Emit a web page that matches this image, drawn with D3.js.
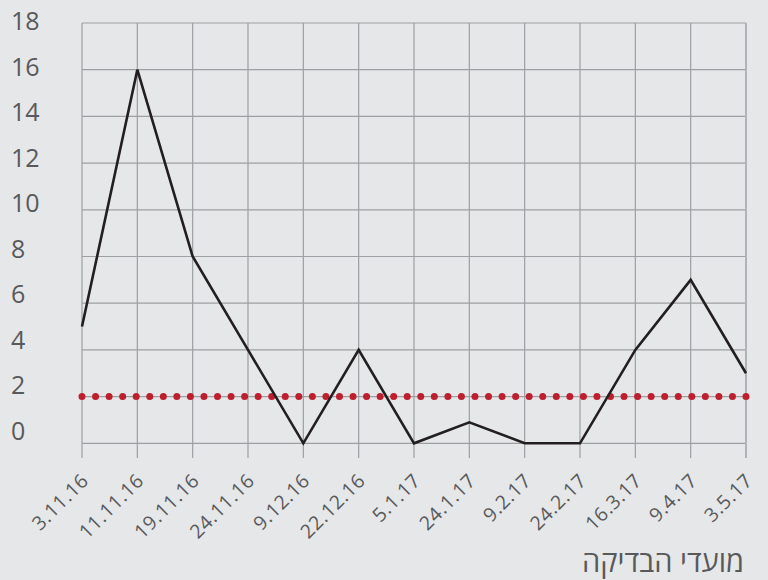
<!DOCTYPE html>
<html>
<head>
<meta charset="utf-8">
<script src="https://cdn.jsdelivr.net/npm/d3@7"></script>
<style>
  body { margin: 0; background: #e6e7e8; }
  svg { display: block; }
  text { font-family: "Open Sans", "Noto Sans", sans-serif; fill: #58595b; }
</style>
</head>
<body>
<script>
var dates = ["3.11.16", "11.11.16", "19.11.16", "24.11.16", "9.12.16", "22.12.16",
             "5.1.17", "24.1.17", "9.2.17", "24.2.17", "16.3.17", "9.4.17", "3.5.17"];
var counts = [5, 16, 8, 4, 0, 4, 0, 0.9, 0, 0, 4, 7, 3];
var threshold = 2;
var yTicks = [0, 2, 4, 6, 8, 10, 12, 14, 16, 18];
var axisTitle = "מועדי הבדיקה";

var width = 768, height = 580;

var svg = d3.select("body").append("svg")
    .attr("width", width)
    .attr("height", height);

var x = d3.scalePoint()
    .domain(dates)
    .range([82, 746]);

var y = d3.scaleLinear()
    .domain([0, 18])
    .range([443.3, 23]);

// tick labels sit a bit above their gridlines in the original
var yLabel = d3.scaleLinear()
    .domain([0, 18])
    .range([431, 21]);

var grid = svg.append("g");

grid.selectAll("line.h")
    .data(yTicks)
    .enter()
      .append("line")
      .attr("class", "h")
      .attr("x1", 82)
      .attr("x2", 746)
      .attr("y1", function (d) { return y(d); })
      .attr("y2", function (d) { return y(d); })
      .attr("stroke", "#9d9fa2")
      .attr("stroke-width", 1.2);

grid.selectAll("line.v")
    .data(dates)
    .enter()
      .append("line")
      .attr("class", "v")
      .attr("x1", function (d) { return x(d); })
      .attr("x2", function (d) { return x(d); })
      .attr("y1", y(18))
      .attr("y2", 458)
      .attr("stroke", function (d, i) { return i == dates.length - 1 ? "#b1b3b6" : "#9d9fa2"; })
      .attr("stroke-width", function (d, i) { return i == dates.length - 1 ? 2 : 1.2; });

svg.append("g").selectAll("text")
    .data(yTicks)
    .enter()
      .append("text")
      .attr("x", 11)
      .attr("y", function (d) { return yLabel(d); })
      .attr("dy", "0.36em")
      .style("font-size", "25px")
      .text(function (d) { return d; });

svg.append("g").selectAll("text")
    .data(dates)
    .enter()
      .append("text")
      .attr("text-anchor", "end")
      .attr("transform", function (d) { return "translate(" + (x(d) + 3) + ",477) rotate(-45)"; })
      .attr("dy", "0.35em")
      .style("font-size", "19.5px")
      .style("letter-spacing", "0.6px")
      .text(function (d) { return d; });

// red dotted threshold
svg.append("line")
    .attr("x1", x.range()[0])
    .attr("x2", x.range()[1] + 1)
    .attr("y1", y(threshold))
    .attr("y2", y(threshold))
    .attr("stroke", "#be1e2d")
    .attr("stroke-width", 7)
    .attr("stroke-linecap", "round")
    .attr("stroke-dasharray", "0," + ((x.range()[1] - x.range()[0]) / 49));

var line = d3.line()
    .x(function (d, i) { return x(dates[i]); })
    .y(function (d) { return y(d); });

svg.append("path")
    .datum(counts)
    .attr("d", line)
    .attr("fill", "none")
    .attr("stroke", "#231f20")
    .attr("stroke-width", 2.6)
    .attr("stroke-linejoin", "miter");

svg.append("text")
    .attr("x", 744)
    .attr("y", 572)
    .attr("text-anchor", "end")
    .style("font-size", "29px")
    .text(axisTitle);
</script>
</body>
</html>
